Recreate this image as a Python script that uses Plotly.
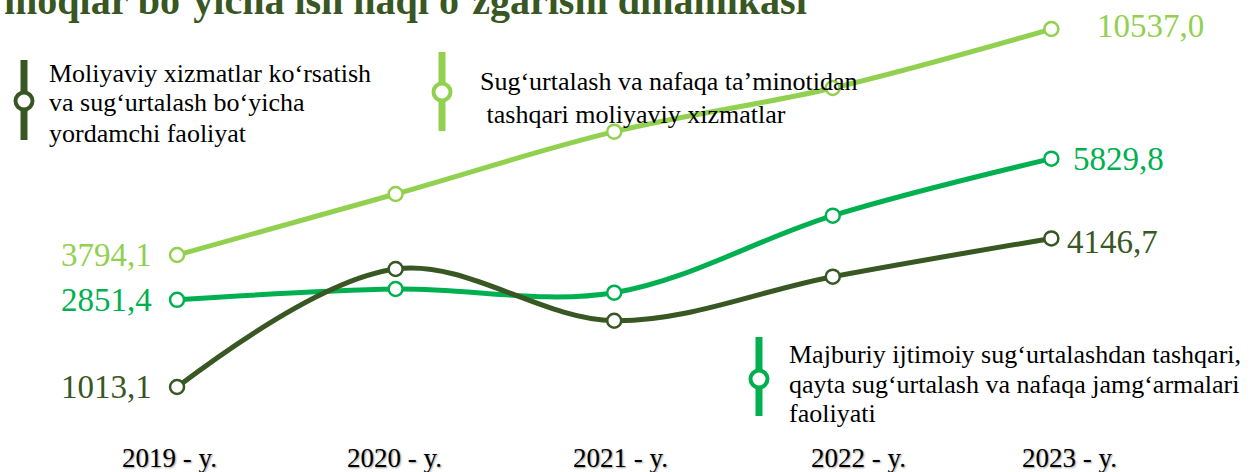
import plotly.graph_objects as go

years = ["2019 - y.", "2020 - y.", "2021 - y.", "2022 - y.", "2023 - y."]
s_light = [3794.1, 5615, 7474, 8778, 10537.0]   # secondary axis
s_green = [2851.4, 3080, 3002, 4627, 5829.8]
s_dark = [1013.1, 3502, 2411, 3340, 4146.7]

name_light = ["Sug‘urtalash va nafaqa ta’minotidan", " tashqari moliyaviy xizmatlar"]
name_green = ["Majburiy ijtimoiy sug‘urtalashdan tashqari,",
              "qayta sug‘urtalash va nafaqa jamg‘armalari", "faoliyati"]
name_dark = ["Moliyaviy xizmatlar ko‘rsatish", "va sug‘urtalash bo‘yicha", "yordamchi faoliyat"]
title_text = "moqlar bo‘yicha ish haqi o‘zgarishi dinamikasi"

C_LIGHT = "#92D050"
C_GREEN = "#00B050"
C_DARK = "#385723"

W, H = 1252, 472
PLOT_B = 435  # plot bottom in px

fig = go.Figure()

def add_series(vals, color, yaxis):
    fig.add_trace(go.Scatter(
        x=years, y=vals, yaxis=yaxis, mode="lines+markers",
        line=dict(color=color, width=5, shape="spline", smoothing=1),
        marker=dict(symbol="circle", size=14, color="white",
                    line=dict(color=color, width=2.5)),
        showlegend=False, hoverinfo="skip"))

add_series(s_light, C_LIGHT, "y2")
add_series(s_green, C_GREEN, "y")
add_series(s_dark, C_DARK, "y")

def fmt(v):
    return f"{v:.1f}".replace(".", ",")

ann = []
LF = dict(family="Liberation Serif", size=33)
for vals, color, yref in [(s_light, C_LIGHT, "y2"), (s_green, C_GREEN, "y"), (s_dark, C_DARK, "y")]:
    ann.append(dict(x=years[0], y=vals[0], xref="x", yref=yref, text=fmt(vals[0]),
                    xanchor="right", yanchor="middle", xshift=-23, showarrow=False,
                    font=dict(LF, color=color)))
ann.append(dict(x=years[-1], y=s_light[-1], xref="x", yref="y2", text=fmt(s_light[-1]),
                xanchor="left", yanchor="middle", xshift=44, yshift=3, showarrow=False,
                font=dict(LF, color=C_LIGHT)))
ann.append(dict(x=years[-1], y=s_green[-1], xref="x", yref="y", text=fmt(s_green[-1]),
                xanchor="left", yanchor="middle", xshift=20, showarrow=False,
                font=dict(LF, color=C_GREEN)))
ann.append(dict(x=years[-1], y=s_dark[-1], xref="x", yref="y", text=fmt(s_dark[-1]),
                xanchor="left", yanchor="middle", xshift=14, yshift=-4, showarrow=False,
                font=dict(LF, color=C_DARK)))

# x category labels (slightly offset as in the reference)
label_shift = [-8, -1, 6, 26, 18]
for yr, sh in zip(years, label_shift):
    ann.append(dict(x=yr, y=0, xref="x", yref="paper", text=yr, xanchor="center",
                    yanchor="middle", xshift=sh, yshift=-23, showarrow=False,
                    font=dict(family="Liberation Serif", size=27, color="black",
                              shadow="1px 1px 2px #999")))

# title (partly cut at top edge as in the reference)
ann.append(dict(x=0, y=1, xref="paper", yref="paper", text="<b>" + title_text + "</b>",
                xanchor="left", yanchor="bottom", xshift=2, yshift=-25, showarrow=False,
                font=dict(family="Liberation Serif", size=40, color=C_DARK)))

def px(xp):
    return xp / W

def py(yp):
    return 1 - yp / PLOT_B

shapes = []
TF = dict(family="Liberation Serif", size=26, color="black")
legend_items = [
    (name_dark, C_DARK, 24, 60, 140, 101, 47, [73, 103, 133]),
    (name_light, C_LIGHT, 442, 52, 131, 92, 478, [82, 114]),
    (name_green, C_GREEN, 759, 337, 416, 379, 787, [354, 384, 413]),
]
for lines, color, lx, y0, y1, cy, tx, tys in legend_items:
    shapes.append(dict(type="line", xref="paper", yref="paper",
                       x0=px(lx), x1=px(lx), y0=py(y0), y1=py(y1),
                       line=dict(color=color, width=7), layer="above"))
    shapes.append(dict(type="circle", xref="paper", yref="paper",
                       xsizemode="pixel", ysizemode="pixel",
                       xanchor=px(lx), yanchor=py(cy), x0=-8.5, x1=8.5, y0=-8.5, y1=8.5,
                       fillcolor="white", line=dict(color=color, width=4), layer="above"))
    for line_text, ty in zip(lines, tys):
        ann.append(dict(x=px(tx), y=py(ty), xref="paper", yref="paper", text=line_text,
                        xanchor="left", yanchor="middle", align="left", showarrow=False,
                        font=TF))

fig.update_layout(
    width=W, height=H,
    margin=dict(l=0, r=0, t=0, b=H - PLOT_B),
    paper_bgcolor="white", plot_bgcolor="white",
    xaxis=dict(type="category", range=[-0.81, 4.918], showgrid=False, zeroline=False,
               showline=False, showticklabels=False, automargin=False),
    yaxis=dict(range=[0, 9177], visible=False, automargin=False),
    yaxis2=dict(range=[-1575, 11403], overlaying="y", visible=False, automargin=False),
    annotations=ann,
    shapes=shapes,
)

fig.write_html("out.html", config={"displayModeBar": False},
               post_script="document.body.style.margin='0';")
